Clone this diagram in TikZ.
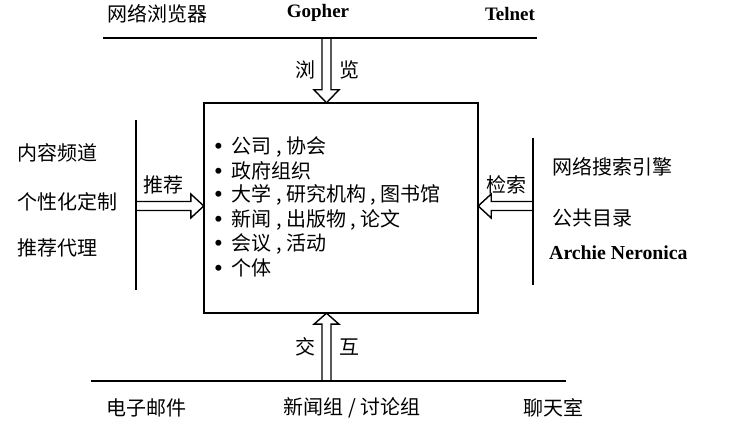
\documentclass[tikz,border=0pt]{standalone}
\usepackage{fontspec}
\setmainfont{Liberation Serif}
\newfontfamily\cjk{Noto Sans CJK SC}
\usetikzlibrary{calc}
\newcommand\mybul{{\rmfamily\fontsize{25}{20}\selectfont\raisebox{-1pt}{\textbullet}}\hspace{9pt}}
\begin{document}
\begin{tikzpicture}[x=1pt,y=-1pt,
  cjktext/.style={font=\cjk\fontsize{20}{20}\selectfont, inner sep=0pt},
  lattext/.style={font=\bfseries\fontsize{19}{19}\selectfont, inner sep=0pt},
  itemtext/.style={font=\cjk\fontsize{20}{20}\selectfont, inner sep=0pt, anchor=west},
  hline/.style={line width=2pt},
  frame/.style={draw, line width=1.5pt, minimum width=274pt, minimum height=210pt, inner sep=0pt},
  hollow/.style={line width=1.4pt, fill=white, line join=miter}]
\useasboundingbox (0,0) rectangle (731,435);

% central box (drawn later over arrows)
\path node[minimum width=274pt, minimum height=210pt, inner sep=0pt] (box) at (341,208) {};

% anchors of lines
\coordinate (tl1) at (103,38);
\coordinate (tl2) at (537,38);
\coordinate (bl1) at (91,381);
\coordinate (bl2) at (566,381);
\coordinate (vl1) at (136,120);
\coordinate (vl2) at (136,290);
\coordinate (vr1) at (533,138);
\coordinate (vr2) at (533,285);

% arrow ends
\coordinate (ta) at (326.5,38);
\coordinate (tb) at (ta |- box.north);
\coordinate (ba) at (326.5,381);
\coordinate (bb) at (ba |- box.south);
\coordinate (la) at (136,206);
\coordinate (lb) at (box.west |- la);
\coordinate (ra) at (533,206);
\coordinate (rb) at (box.east |- ra);

% hollow arrows
\draw[hollow] ($(ta)+(-4.5,0)$) -- ($(tb)+(-4.5,-13)$) -- ($(tb)+(-12.5,-13)$) -- (tb)
  -- ($(tb)+(12.5,-13)$) -- ($(tb)+(4.5,-13)$) -- ($(ta)+(4.5,0)$);
\draw[hollow] ($(ba)+(-4.5,0)$) -- ($(bb)+(-4.5,11)$) -- ($(bb)+(-12.5,11)$) -- (bb)
  -- ($(bb)+(12.5,11)$) -- ($(bb)+(4.5,11)$) -- ($(ba)+(4.5,0)$);
\draw[hollow] ($(la)+(0,-4.5)$) -- ($(lb)+(-13,-4.5)$) -- ($(lb)+(-13,-12)$) -- (lb)
  -- ($(lb)+(-13,12)$) -- ($(lb)+(-13,4.5)$) -- ($(la)+(0,4.5)$);
\draw[hollow] ($(ra)+(0,-4.5)$) -- ($(rb)+(13,-4.5)$) -- ($(rb)+(13,-12)$) -- (rb)
  -- ($(rb)+(13,12)$) -- ($(rb)+(13,4.5)$) -- ($(ra)+(0,4.5)$);

% box frame
\node[frame] (boxframe) at (box.center) {};

% lines
\draw[hline] (tl1) -- (tl2);
\draw[hline] (bl1) -- (bl2);
\draw[hline] (vl1) -- (vl2);
\draw[hline] (vr1) -- (vr2);

% top labels
\node[cjktext] (t1) at (157,14) {网络浏览器};
\node[lattext] (t2) at (318,13) {Gopher};
\node[lattext] (t3) at (510,14) {Telnet};

% arrow labels
\node[cjktext] (lz1) at (305,70) {浏};
\node[cjktext] (lz2) at (349,70) {览};
\node[cjktext] (jh1) at (305,347) {交};
\node[cjktext] (jh2) at (349,347) {互};
\node[cjktext] (tj) at (163,185) {推荐};
\node[cjktext] (js) at (506,185) {检索};

% left labels
\node[cjktext, anchor=west] (l1) at (17,153) {内容频道};
\node[cjktext, anchor=west] (l2) at (17,202) {个性化定制};
\node[cjktext, anchor=west] (l3) at (17,248) {推荐代理};

% right labels
\node[cjktext, anchor=west] (r1) at (552,167) {网络搜索引擎};
\node[cjktext, anchor=west] (r2) at (552,218) {公共目录};
\node[lattext, anchor=west, font=\bfseries\fontsize{19.8}{20}\selectfont] (r3) at (549,253) {Archie Neronica};

% bottom labels
\node[cjktext] (b1) at (146,408) {电子邮件};
\node[cjktext] (b2) at (352,408) {新闻组 / 讨论组};
\node[cjktext] (b3) at (553,408) {聊天室};

% bullet list
\node[itemtext] (i1) at (214,147) {\mybul 公司 , 协会};
\node[itemtext] (i2) at (214,171) {\mybul 政府组织};
\node[itemtext] (i3) at (214,195) {\mybul 大学 , 研究机构 , 图书馆};
\node[itemtext] (i4) at (214,220) {\mybul 新闻 , 出版物 , 论文};
\node[itemtext] (i5) at (214,244) {\mybul 会议 , 活动};
\node[itemtext] (i6) at (214,268) {\mybul 个体};
\end{tikzpicture}
\end{document}
